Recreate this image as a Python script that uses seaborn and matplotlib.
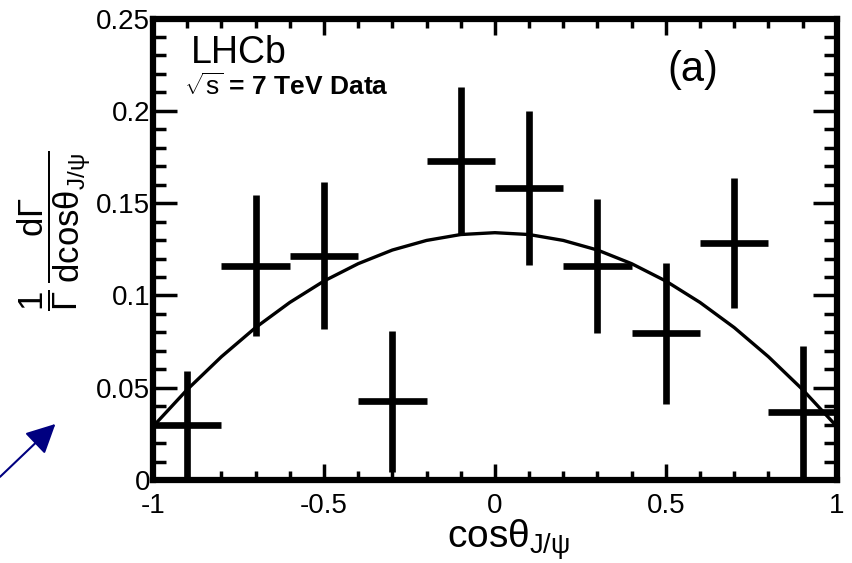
import numpy as np
import pandas as pd
import matplotlib
matplotlib.use('Agg')
import matplotlib.pyplot as plt
import seaborn as sns
from matplotlib.ticker import MultipleLocator

# data points (bin centres, values, errors)
cos_bins = [-0.9, -0.7, -0.5, -0.3, -0.1, 0.1, 0.3, 0.5, 0.7, 0.9]
dist_vals = [0.0297, 0.1161, 0.1215, 0.0427, 0.1728, 0.1582, 0.1160, 0.0794, 0.1285, 0.0367]
dist_errs = [0.0292, 0.0383, 0.0399, 0.0383, 0.0399, 0.0416, 0.0363, 0.0383, 0.0351, 0.0360]
bin_half = 0.1

# fit curve
curve_x = [-1.0, -0.9, -0.8, -0.7, -0.6, -0.5, -0.4, -0.3, -0.2, -0.1, 0.0,
           0.1, 0.2, 0.3, 0.4, 0.5, 0.6, 0.7, 0.8, 0.9, 1.0]
curve_y = [0.0290, 0.0490, 0.0668, 0.0826, 0.0962, 0.1078, 0.1172, 0.1246, 0.1298, 0.1330, 0.1340,
           0.1330, 0.1298, 0.1246, 0.1172, 0.1078, 0.0962, 0.0826, 0.0668, 0.0490, 0.0290]

xtick_vals = [-1, -0.5, 0, 0.5, 1]
xtick_labels = ['-1', '-0.5', '0', '0.5', '1']
ytick_vals = [0, 0.05, 0.1, 0.15, 0.2, 0.25]
ytick_labels = ['0', '0.05', '0.1', '0.15', '0.2', '0.25']

sns.set_theme(style='ticks')
plt.rcParams['font.family'] = ['Liberation Sans', 'DejaVu Sans']
plt.rcParams['mathtext.fontset'] = 'custom'
plt.rcParams['mathtext.rm'] = 'Liberation Sans'
plt.rcParams['mathtext.it'] = 'Liberation Sans'
plt.rcParams['mathtext.bf'] = 'Liberation Sans:bold'
for key in ['text.color', 'axes.labelcolor', 'xtick.color', 'ytick.color']:
    plt.rcParams[key] = 'black'

fig = plt.figure(figsize=(8.53, 5.63), dpi=100)
ax = fig.add_axes([0.1794, 0.1474, 0.981 - 0.1794, 0.967 - 0.1474])

curve = pd.DataFrame({'x': curve_x, 'y': curve_y})
sns.lineplot(data=curve, x='x', y='y', ax=ax, color='black', linewidth=2.4)

ax.errorbar(cos_bins, dist_vals, xerr=bin_half, yerr=dist_errs, fmt='none',
            ecolor='black', elinewidth=4.8, capsize=0)

ax.set_xlim(-1, 1)
ax.set_ylim(0, 0.25)
ax.set_xticks(xtick_vals)
ax.set_xticklabels(xtick_labels, fontsize=20)
ax.set_yticks(ytick_vals)
ax.set_yticklabels(ytick_labels, fontsize=20, va='center_baseline')
ax.xaxis.set_minor_locator(MultipleLocator(0.1))
ax.yaxis.set_minor_locator(MultipleLocator(0.01))

for s in ax.spines.values():
    s.set_linewidth(4.5)
    s.set_color('black')

ax.tick_params(axis='both', which='both', direction='in', top=True, right=True,
               width=2.5, color='black')
ax.tick_params(axis='x', which='major', length=11.5, pad=9)
ax.tick_params(axis='x', which='minor', length=6.5)
ax.tick_params(axis='y', which='major', length=17, pad=2)
ax.tick_params(axis='y', which='minor', length=9.4)

ax.set_xlabel(r'$\mathrm{cos}\theta_{J/\psi}$', fontsize=28)
ax.xaxis.set_label_coords(0.52, -0.08)
ax.set_ylabel(r'$\dfrac{1}{\Gamma}\,\dfrac{d\Gamma}{d\mathrm{cos}\theta_{J/\psi}}$', fontsize=25)
ax.yaxis.set_label_coords(-0.088, 0.54)

ax.text(0.055, 0.903, 'LHCb', transform=ax.transAxes, fontsize=27)
ax.text(0.045, 0.834, r'$\sqrt{s}$ = 7 TeV Data', transform=ax.transAxes,
        fontsize=19, fontweight='bold')
ax.text(0.79, 0.888, '(a)', transform=ax.transAxes, fontsize=30,
        ha='center', va='center')

ax.annotate('', xy=(0.065, 0.247), xytext=(0.0, 0.153),
            xycoords='figure fraction', textcoords='figure fraction',
            arrowprops=dict(arrowstyle='-|>', color='#000080', lw=1.5,
                            mutation_scale=45, shrinkA=0, shrinkB=0))

fig.savefig('out.png', dpi=100)
